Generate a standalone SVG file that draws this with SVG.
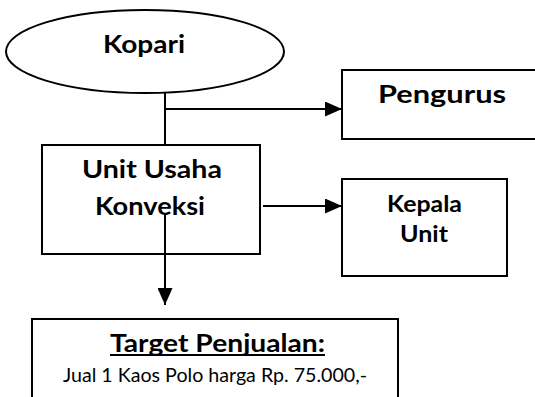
<svg xmlns="http://www.w3.org/2000/svg" width="535" height="397" viewBox="0 0 535 397">
<style>
.shape{fill:#fff;stroke:#000;stroke-width:2}
.ln{fill:none;stroke:#000;stroke-width:2}
.b{font-family:Lato,"Open Sans","Liberation Sans",sans-serif;font-weight:bold;fill:#000;text-anchor:middle}
.r{font-family:Lato,"Open Sans","Liberation Sans",sans-serif;fill:#000;text-anchor:middle}
</style>
<defs>
<marker id="arr" viewBox="0 0 17 15" refX="17" refY="7.5" markerWidth="17" markerHeight="15" orient="auto" markerUnits="userSpaceOnUse">
<path d="M0,0 L17,7.5 L0,15 z" fill="#000"/>
</marker>
</defs>
<rect width="535" height="397" fill="#fff"/>
<g id="node-kopari">
<ellipse class="shape" cx="145" cy="51.5" rx="139" ry="41.5"/>
<text class="b" x="144" y="53" font-size="25" textLength="82" lengthAdjust="spacingAndGlyphs">Kopari</text>
</g>
<g id="node-pengurus">
<rect class="shape" x="342" y="70" width="200" height="69"/>
<text class="b" x="442" y="103" font-size="25" textLength="128" lengthAdjust="spacingAndGlyphs">Pengurus</text>
</g>
<g id="node-unit-usaha">
<rect class="shape" x="42" y="145" width="218" height="109"/>
<text class="b" x="152" y="178" font-size="25" textLength="140" lengthAdjust="spacingAndGlyphs">Unit Usaha</text>
<text class="b" x="150" y="215" font-size="25" textLength="110" lengthAdjust="spacingAndGlyphs">Konveksi</text>
</g>
<g id="node-kepala-unit">
<rect class="shape" x="342" y="179" width="165" height="97"/>
<text class="b" x="424.5" y="212" font-size="22" textLength="75" lengthAdjust="spacingAndGlyphs">Kepala</text>
<text class="b" x="424" y="242" font-size="22" textLength="48" lengthAdjust="spacingAndGlyphs">Unit</text>
</g>
<g id="node-target">
<rect class="shape" x="32" y="319" width="366" height="100"/>
<text class="b" x="217.5" y="352" font-size="24" textLength="215" lengthAdjust="spacingAndGlyphs">Target Penjualan:</text>
<line x1="110" y1="355" x2="325" y2="355" stroke="#000" stroke-width="2"/>
<text class="r" x="215" y="382" font-size="20" textLength="304" lengthAdjust="spacingAndGlyphs">Jual 1 Kaos Polo harga Rp. 75.000,-</text>
</g>
<g id="connectors">
<line class="ln" x1="165" y1="93" x2="165" y2="145"/>
<line class="ln" x1="164" y1="109" x2="342" y2="109" marker-end="url(#arr)"/>
<line class="ln" x1="165" y1="213" x2="165" y2="305" marker-end="url(#arr)"/>
<line class="ln" x1="263" y1="206" x2="342" y2="206" marker-end="url(#arr)"/>
</g>
</svg>
